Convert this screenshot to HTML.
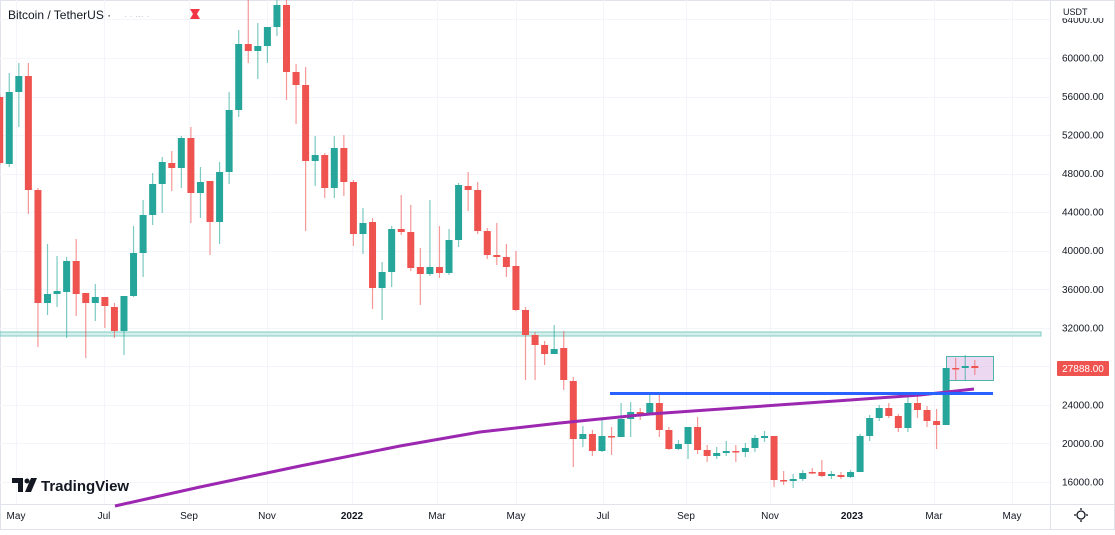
<!DOCTYPE html>
<html><head><meta charset="utf-8"><style>
html,body{margin:0;padding:0;background:#fff;}
body{width:1115px;height:530px;overflow:hidden;font-family:"Liberation Sans",sans-serif;}
</style></head><body>
<svg id="s" width="1115" height="530" xmlns="http://www.w3.org/2000/svg" font-family="Liberation Sans, sans-serif">
<rect x="0.5" y="0.5" width="1114" height="529" fill="#fff" stroke="#e0e3eb"/>
<g id="grid" stroke="#f3f5fa" stroke-width="1"></g>
<line x1="1050.5" y1="0" x2="1050.5" y2="530" stroke="#e0e3eb"/>
<line x1="0" y1="504.5" x2="1115" y2="504.5" stroke="#e0e3eb"/>
<rect x="0" y="332" width="1041" height="4" fill="#d6efec" stroke="#7ccbc2" stroke-width="1"/>
<rect x="946.5" y="356.5" width="47" height="24" fill="#e1bee7" fill-opacity="0.6" stroke="#4db6ac"/>
<g id="c"></g>
<polyline fill="none" stroke="#9c27b0" stroke-width="3" points="115,506 200,487 300,466 400,446 480,432 560,423 650,414 750,407 850,400 920,395 974,389"/>
<line x1="610" y1="393.5" x2="993" y2="393.5" stroke="#2962ff" stroke-width="3"/>
<g id="ax" font-size="10" fill="#131722"></g>
<rect x="1057" y="361" width="52" height="15" fill="#ef5350" rx="1"/>
<text x="1083" y="372" font-size="10" fill="#fff" text-anchor="middle">27888.00</text>
<rect x="1056" y="4" width="50" height="14" fill="#fff"/>
<text x="1063" y="15" font-size="9" fill="#131722">USDT</text>
<text x="8" y="19" font-size="12" fill="#131722">Bitcoin / TetherUS ·</text>
<text x="124" y="19" font-size="9" fill="#c8c8c8">· · ·-· ·</text>
<path d="M190 9 h10 l-3 5 l3 5 h-10 l3 -5z" fill="#f23645"/>
<g id="tx" font-size="10" fill="#131722" text-anchor="middle"></g>
<g transform="translate(12,478)">
<path d="M0 0 h11 v14 h-5 v-9 h-6z" fill="#131722"/>
<circle cx="15" cy="3" r="2.5" fill="#131722"/>
<path d="M19 0 h6 l-6 14 h-6z" fill="#131722"/>
<text x="29" y="13" font-size="15" font-weight="bold" fill="#131722">TradingView</text>
</g>
<circle cx="1081" cy="515" r="4" fill="none" stroke="#131722" stroke-width="1.3"/>
<g stroke="#131722" stroke-width="1.3"><line x1="1081" y1="508" x2="1081" y2="510"/><line x1="1081" y1="520" x2="1081" y2="522"/><line x1="1074" y1="515" x2="1076" y2="515"/><line x1="1086" y1="515" x2="1088" y2="515"/></g>
</svg>
<script>
var ns="http://www.w3.org/2000/svg";
function el(p,t,a,txt){var e=document.createElementNS(ns,t);for(var k in a)e.setAttribute(k,a[k]);if(txt)e.textContent=txt;p.appendChild(e);return e;}
var grid=document.getElementById('grid'),ax=document.getElementById('ax'),tx=document.getElementById('tx');
for(var i=0;i<13;i++){var p=16000+4000*i;var y=482-(p-16000)*0.009636;
 el(grid,'line',{x1:0,x2:1050,y1:Math.round(y)+.5,y2:Math.round(y)+.5});
 if(y>12)el(ax,'text',{x:1062,y:y+3.5},p.toFixed(2));}
var T=[["May",16],["Jul",104],["Sep",189],["Nov",267],["2022",352],["Mar",437],["May",516],["Jul",603],["Sep",686],["Nov",770],["2023",852],["Mar",934],["May",1012]];
T.forEach(function(t){el(grid,'line',{x1:t[1]+.5,x2:t[1]+.5,y1:0,y2:504});
 var e=el(tx,'text',{x:t[1],y:519},t[0]);if(t[0].length==4)e.setAttribute('font-weight','bold');});
var D=[[97,163,95,165,0],[92,164,73,167,1],[76,92,63,127,1],[76,190,63,214,0],[190,303,188,347,0],[294,303,244,315,1],[291,294,256,307,1],[261,292,257,338,1],[261,294,239,316,0],[293,303,293,358,0],[297,303,284,321,1],[297,306,297,328,0],[307,331,303,338,0],[296,331,296,355,1],[253,296,226,297,1],[215,253,200,277,1],[184,215,173,225,1],[162,184,157,213,1],[163,168,151,191,0],[138,168,136,188,1],[138,193,127,223,0],[182,193,167,218,1],[181,222,181,255,0],[172,222,162,244,1],[110,172,92,184,1],[44,110,30,117,1],[44,51,0,63,0],[46,51,23,79,1],[27,46,27,63,1],[5,27,0,36,1],[5,72,0,100,0],[72,85,64,124,0],[85,161,67,231,0],[155,161,136,186,1],[155,188,153,198,0],[148,188,136,198,1],[148,182,135,196,0],[182,234,180,246,0],[223,234,208,254,1],[222,288,218,309,0],[272,288,262,320,1],[229,272,226,287,1],[229,232,195,235,0],[232,268,205,271,0],[267,274,248,305,0],[267,274,200,276,1],[267,273,226,278,0],[240,273,229,275,1],[185,240,183,247,1],[186,190,172,211,0],[190,231,182,234,0],[231,255,228,259,0],[255,257,223,265,0],[257,267,244,277,0],[266,310,251,311,0],[310,335,307,380,0],[335,345,332,380,0],[345,354,341,365,0],[349,354,325,354,1],[348,380,331,390,0],[381,439,377,467,0],[434,439,426,447,1],[434,451,430,456,0],[436,451,420,452,1],[436,437,427,455,0],[419,437,403,437,1],[412,419,402,437,1],[412,414,408,420,0],[403,414,395,414,1],[403,430,395,437,0],[430,449,427,450,0],[444,449,440,450,1],[427,444,427,459,1],[427,450,417,454,0],[450,456,445,462,0],[453,456,447,459,1],[451,453,441,456,1],[451,452,445,462,0],[448,452,443,457,1],[438,448,435,452,1],[436,438,431,442,1],[436,480,436,487,0],[480,481,471,485,0],[479,481,474,488,1],[473,479,470,481,1],[472,473,468,474,0],[472,476,460,477,0],[474,476,471,479,1],[475,477,472,479,0],[472,477,470,478,1],[436,472,434,472,1],[418,436,415,441,1],[408,418,405,421,1],[408,416,403,418,0],[416,428,414,432,0],[403,428,393,432,1],[403,410,393,418,0],[410,421,406,427,0],[421,425,409,449,0],[368,425,368,425,1],[368,369,358,380,0],[366,368,355,381,1],[366,368,360,375,0]];
var g=document.getElementById('c');
D.forEach(function(d,i){var x=-0.3+9.56*i;var col=d[4]?'#26a69a':'#ef5350';
 el(g,'line',{x1:x,x2:x,y1:d[2],y2:d[3],stroke:col,'stroke-opacity':0.6,'stroke-width':1.2});
 el(g,'rect',{x:x-3.5,y:d[0],width:7,height:Math.max(1.5,d[1]-d[0]),fill:col});});
</script>
</body></html>
